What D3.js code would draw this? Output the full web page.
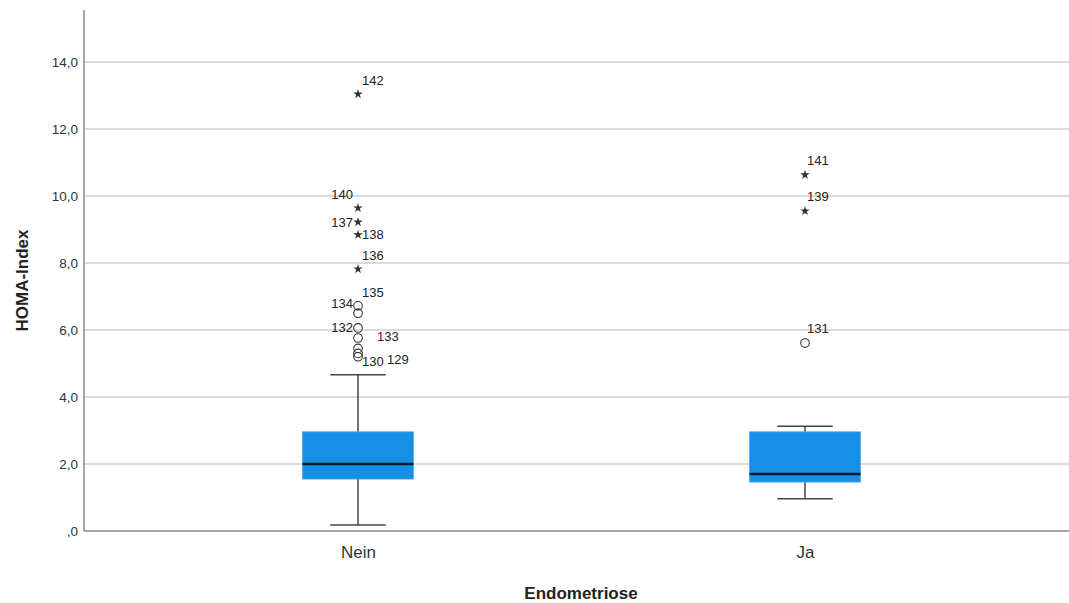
<!DOCTYPE html>
<html>
<head>
<meta charset="utf-8">
<script src="https://cdn.jsdelivr.net/npm/d3@7/dist/d3.min.js"></script>
<style>
  html, body { margin: 0; padding: 0; background: #fff; }
  svg { display: block; font-family: "Liberation Sans", Arial, sans-serif; }
</style>
</head>
<body>
<svg id="chart" width="1069" height="603"></svg>
<script>
// HOMA-Index by endometriosis status
const categories = ["Nein", "Ja"];
const whiskerLow = [0.18, 0.96];
const q1 = [1.55, 1.46];
const median = [2.00, 1.70];
const q3 = [2.96, 2.96];
const whiskerHigh = [4.66, 3.13];

// outliers (circles) and extremes (stars), with case numbers
const outlierGroup = ["Nein", "Nein", "Nein", "Nein", "Nein", "Nein", "Nein", "Ja"];
const outlierCase = [134, 135, 132, 133, 130, 129, 128, 131];
const outlierValue = [6.72, 6.50, 6.06, 5.76, 5.45, 5.30, 5.20, 5.61];
const outlierLabel = ["134", "135", "132", "133", "", "130", "129", "131"];

const extremeGroup = ["Nein", "Nein", "Nein", "Nein", "Nein", "Ja", "Ja"];
const extremeCase = [142, 140, 137, 138, 136, 141, 139];
const extremeValue = [13.04, 9.64, 9.22, 8.84, 7.82, 10.63, 9.55];

const yTicks = [0, 2, 4, 6, 8, 10, 12, 14];
const yTitle = "HOMA-Index";
const xTitle = "Endometriose";

const svg = d3.select("#chart");
const margin = { left: 84, top: 10 };
const W = 1069;

const y = d3.scaleLinear().domain([0, 15.55]).range([531, margin.top]);
const x = d3.scalePoint().domain(categories).range([margin.left, 1079]).padding(0.613);
const boxW = x.step() * 0.248;
const capW = boxW * 0.5;

const fmt = v => (v === 0 ? ",0" : d3.format(".1f")(v).replace(".", ","));

// grid lines
svg.append("g")
  .selectAll("line")
  .data(yTicks.filter(t => t > 0))
  .join("line")
  .attr("x1", margin.left).attr("x2", W)
  .attr("y1", d => y(d)).attr("y2", d => y(d))
  .attr("stroke", "#cfcfcf").attr("stroke-width", 1.6);

// y axis
const yAxis = d3.axisLeft(y).tickValues(yTicks).tickFormat(fmt).tickSize(0).tickPadding(6);
const gy = svg.append("g").attr("transform", `translate(${margin.left},0)`).call(yAxis);
gy.select(".domain").remove();
gy.selectAll("text").attr("font-size", 13.5).attr("fill", "#333").attr("font-family", "Liberation Sans, Arial, sans-serif");
svg.append("line")
  .attr("x1", margin.left).attr("x2", margin.left)
  .attr("y1", margin.top).attr("y2", y(0))
  .attr("stroke", "#888").attr("stroke-width", 1.5);

// x axis
const xAxis = d3.axisBottom(x).tickSize(0).tickPadding(15);
const gx = svg.append("g").attr("transform", `translate(0,${y(0)})`).call(xAxis);
gx.select(".domain").remove();
gx.selectAll("text").attr("font-size", 17).attr("fill", "#333").attr("font-family", "Liberation Sans, Arial, sans-serif");
svg.append("line")
  .attr("x1", margin.left).attr("x2", W)
  .attr("y1", y(0)).attr("y2", y(0))
  .attr("stroke", "#888").attr("stroke-width", 1.5);

// axis titles
svg.append("text")
  .attr("transform", `translate(28,${(margin.top + y(0)) / 2 + 10}) rotate(-90)`)
  .attr("text-anchor", "middle")
  .attr("font-size", 17).attr("font-weight", "bold").attr("fill", "#222")
  .text(yTitle);
svg.append("text")
  .attr("x", 581).attr("y", 599)
  .attr("text-anchor", "middle")
  .attr("font-size", 17).attr("font-weight", "bold").attr("fill", "#222")
  .text(xTitle);

// boxes
const boxes = categories.map((c, i) => ({
  c, lo: whiskerLow[i], q1: q1[i], med: median[i], q3: q3[i], hi: whiskerHigh[i]
}));
const gb = svg.append("g");
boxes.forEach(b => {
  const cx = x(b.c);
  const g = gb.append("g");
  // whiskers
  g.append("line").attr("x1", cx).attr("x2", cx).attr("y1", y(b.q3)).attr("y2", y(b.hi))
    .attr("stroke", "#444").attr("stroke-width", 1.5);
  g.append("line").attr("x1", cx).attr("x2", cx).attr("y1", y(b.q1)).attr("y2", y(b.lo))
    .attr("stroke", "#444").attr("stroke-width", 1.5);
  g.append("line").attr("x1", cx - capW / 2).attr("x2", cx + capW / 2).attr("y1", y(b.hi)).attr("y2", y(b.hi))
    .attr("stroke", "#444").attr("stroke-width", 1.5);
  g.append("line").attr("x1", cx - capW / 2).attr("x2", cx + capW / 2).attr("y1", y(b.lo)).attr("y2", y(b.lo))
    .attr("stroke", "#444").attr("stroke-width", 1.5);
  // box
  g.append("rect")
    .attr("x", cx - boxW / 2).attr("width", boxW)
    .attr("y", y(b.q3)).attr("height", y(b.q1) - y(b.q3))
    .attr("fill", "#1590e6").attr("stroke", "#4aa8ee").attr("stroke-width", 0.8);
  // median
  g.append("line").attr("x1", cx - boxW / 2).attr("x2", cx + boxW / 2)
    .attr("y1", y(b.med)).attr("y2", y(b.med))
    .attr("stroke", "#0d1a26").attr("stroke-width", 2.6);
});

// label placement beside each point: [dx, dy, anchor]
const labelPos = {
  142: [4, -14, "start"], 140: [-5, -14, "end"], 137: [-5, 0, "end"], 138: [4, 0, "start"],
  136: [4, -14, "start"], 141: [2, -14, "start"], 139: [2, -15, "start"],
  134: [-5, -2, "end"], 135: [4, -21, "start"], 132: [-5, -1, "end"], 133: [19, -2, "start"],
  130: [4, 8, "start"], 129: [29, 3, "start"], 131: [2, -15, "start"]
};
const lblFont = 13;

// outlier circles
const outliers = outlierValue.map((v, i) => ({ g: outlierGroup[i], id: outlierCase[i], v, lbl: outlierLabel[i] }));
const go = svg.append("g");
go.selectAll("circle").data(outliers).join("circle")
  .attr("cx", d => x(d.g)).attr("cy", d => y(d.v)).attr("r", 4.3)
  .attr("fill", "none").attr("stroke", "#333").attr("stroke-width", 1.1);
go.selectAll("text").data(outliers.filter(d => d.lbl)).join("text")
  .attr("x", d => x(d.g) + labelPos[+d.lbl][0])
  .attr("y", d => y(d.v) + labelPos[+d.lbl][1])
  .attr("dy", "0.35em")
  .attr("text-anchor", d => labelPos[+d.lbl][2])
  .attr("font-size", lblFont).attr("fill", "#222")
  .text(d => d.lbl);

// extreme stars
const extremes = extremeValue.map((v, i) => ({ g: extremeGroup[i], id: extremeCase[i], v }));
const star = d3.symbol().type(d3.symbolStar).size(28);
const ge = svg.append("g");
ge.selectAll("path").data(extremes).join("path")
  .attr("transform", d => `translate(${x(d.g)},${y(d.v)})`)
  .attr("d", star).attr("fill", "#333");
ge.selectAll("text").data(extremes).join("text")
  .attr("x", d => x(d.g) + labelPos[d.id][0])
  .attr("y", d => y(d.v) + labelPos[d.id][1])
  .attr("dy", "0.35em")
  .attr("text-anchor", d => labelPos[d.id][2])
  .attr("font-size", lblFont).attr("fill", "#222")
  .text(d => d.id);
</script>
</body>
</html>
